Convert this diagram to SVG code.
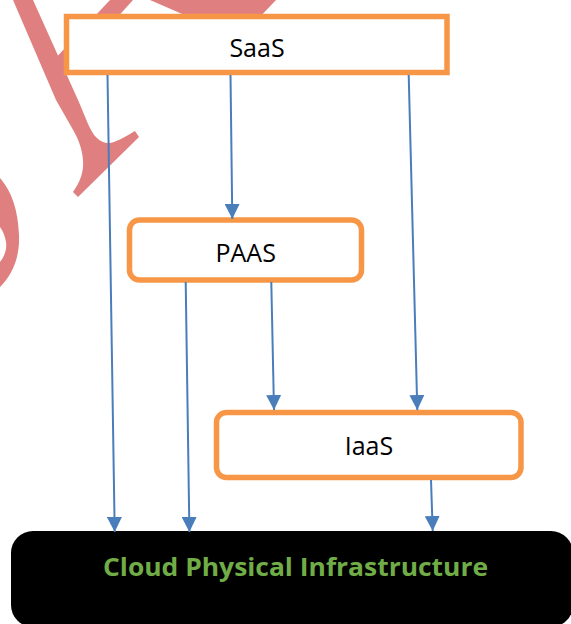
<svg xmlns="http://www.w3.org/2000/svg" width="571" height="624" viewBox="0 0 571 624">
  <style>
    .wm { fill: #E07F7F; stroke: none; }
    .box { fill: #FFFFFF; stroke: #F79646; stroke-width: 5.5; }
    .lbl { font-family: "Open Sans", "Liberation Sans", sans-serif; font-size: 25px; fill: #000000; text-anchor: middle; }
    .base { fill: #000000; stroke: none; }
    .baselbl { font-family: "Open Sans", "Liberation Sans", sans-serif; font-size: 25px; font-weight: bold; fill: #70AD47; text-anchor: middle; }
    .conn { stroke: #4A7EBB; stroke-width: 2; fill: none; marker-end: url(#arr); }
  </style>
  <defs>
    <marker id="arr" markerUnits="userSpaceOnUse" markerWidth="15" markerHeight="15" refX="15" refY="7.5" orient="auto" viewBox="0 0 15 15">
      <path d="M0,0 L15,7.5 L0,15 Z" fill="#4A7EBB"/>
    </marker>
  </defs>

  <rect width="571" height="624" fill="#FFFFFF"/>

  <!-- watermark shapes -->
  <g id="watermark">
    <path class="wm" d="M13,0 L33,0 L78,100 C86,118 90,132 97,138 C102,143 108,144 114,142 C120,140 128,135 135,131 L139,137 L78,197 L73,192 C80,182 84,172 83,160 C82,148 78,138 72,128 L56,100 Z"/>
    <path class="wm" d="M110,0 L133,0 L68,72 L52,62 Z"/>
    <path class="wm" d="M150,0 L276,0 L257,20 L196,20 Z"/>
    <path class="wm" d="M0,178 C12,192 18,210 19,235 C20,258 12,275 0,287 L0,262 C5,256 7,248 6,242 C5,236 3,231 0,227 Z"/>
  </g>

  <g id="cloud-physical-infrastructure">
    <rect class="base" x="11" y="531" width="562" height="96" rx="22" ry="22"/>
    <text class="baselbl" x="295.5" y="576" textLength="385" lengthAdjust="spacingAndGlyphs">Cloud Physical Infrastructure</text>
  </g>

  <g id="saas">
    <rect class="box" x="66.5" y="16.5" width="380.5" height="56"/>
    <text class="lbl" x="257" y="57">SaaS</text>
  </g>

  <g id="paas">
    <rect class="box" x="129.5" y="220" width="232" height="60" rx="10" ry="10"/>
    <text class="lbl" x="245.7" y="262.3">PAAS</text>
  </g>

  <g id="iaas">
    <rect class="box" x="216.5" y="412.5" width="304.5" height="65" rx="10" ry="10"/>
    <text class="lbl" x="369" y="455">IaaS</text>
  </g>

  <g id="connectors">
    <line class="conn" x1="107.5" y1="75" x2="114.7" y2="532"/>
    <line class="conn" x1="230.5" y1="75" x2="232.3" y2="219"/>
    <line class="conn" x1="408.7" y1="75" x2="417.3" y2="410"/>
    <line class="conn" x1="185.7" y1="282" x2="189.4" y2="532"/>
    <line class="conn" x1="271.3" y1="282" x2="274" y2="410"/>
    <line class="conn" x1="431" y1="480" x2="432.7" y2="531"/>
  </g>
</svg>
